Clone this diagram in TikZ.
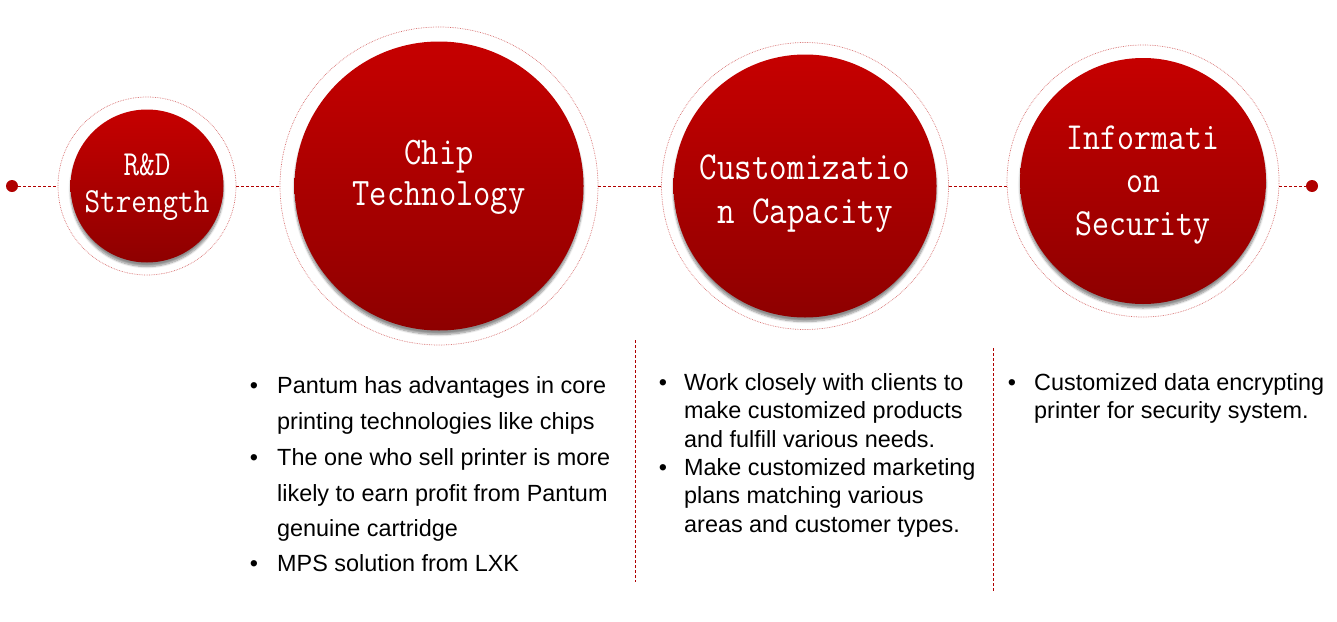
\documentclass[tikz,border=0pt]{standalone}
\usepackage{fontspec}
\setmainfont{Liberation Sans}
\newfontfamily\ballfont[FakeStretch=0.86]{Latin Modern Mono}
\usetikzlibrary{shadows.blur}
\definecolor{ctop}{RGB}{198,0,0}
\definecolor{cbot}{RGB}{142,0,0}
\definecolor{ring}{RGB}{214,110,110}
\definecolor{lred}{RGB}{176,0,0}
\tikzset{
  ball/.style={circle, inner sep=0pt, top color=ctop, bottom color=cbot, draw=none,
    blur shadow={shadow xshift=0pt, shadow yshift=-4pt, shadow blur steps=8, shadow opacity=45}},
  lbl/.style={inner sep=0pt, text=white, align=center, anchor=center},
  ringc/.style={circle, inner sep=0pt, draw=ring, densely dotted, line width=0.7pt},
  link/.style={draw=lred, densely dashed, line width=0.8pt},
  divider/.style={draw=lred, densely dashed, line width=0.6pt},
  enddot/.style={circle, fill=lred, inner sep=0pt, minimum size=12pt},
  txt/.style={anchor=base west, inner sep=0pt, font=\fontsize{23.4}{28}\selectfont, text=black},
  bul/.style={anchor=base, inner sep=0pt, font=\fontsize{23.4}{28}\selectfont, text=black},
}
\begin{document}
\begin{tikzpicture}[x=1pt,y=-1pt]
\useasboundingbox (0,0) rectangle (1337,621);
% outer rings
\node[ringc, minimum size=178pt] (rdO) at (147,186) {};
\node[ringc, minimum size=318pt] (chO) at (439,186) {};
\node[ringc, minimum size=287pt] (cuO) at (805,186) {};
\node[ringc, minimum size=272pt] (inO) at (1143,181) {};
% end dots
\node[enddot] (dL) at (12,186) {};
\node[enddot] (dR) at (1312,186) {};
% links
\draw[link] (dL) -- (rdO.west);
\draw[link] (rdO.east) -- (chO.west);
\draw[link] (chO.east) -- (cuO.west);
\draw[link] (cuO.east) -- (cuO.east -| inO.west);
\draw[link] (dR -| inO.east) -- (dR);
% balls
\node[ball, minimum size=153pt] (rd) at (147,186) {};
\node[ball, minimum size=289pt] (ch) at (439,186) {};
\node[ball, minimum size=263pt] (cu) at (805,186) {};
\node[ball, minimum size=246pt] (in) at (1143,181) {};
% ball labels
\node[lbl, font=\ballfont\fontsize{35.2}{37}\selectfont] (rdL) at ([yshift=-0.7pt]rd.center) {R\&D\\Strength};
\node[lbl, font=\ballfont\fontsize{39}{41}\selectfont] (chL) at ([yshift=9pt]ch.center) {Chip\\Technology};
\node[lbl, font=\ballfont\fontsize{39.6}{44}\selectfont] (cuL) at ([yshift=-7.3pt]cu.center) {Customizatio\\n Capacity};
\node[lbl, font=\ballfont\fontsize{38.3}{43}\selectfont] (inL) at ([yshift=-3.6pt]in.center) {Informati\\on\\Security};
% dividers
\coordinate (v1a) at (635,340);
\coordinate (v1b) at (635,582);
\coordinate (v2a) at (993,348);
\coordinate (v2b) at (993,591);
\draw[divider] (v1a) -- (v1b);
\draw[divider] (v2a) -- (v2b);
% chip column
\node[bul] (cb1) at (254,393) {•};
\node[bul] (cb2) at (254,465) {•};
\node[bul] (cb3) at (254,571) {•};
\node[txt] (c1) at (277,393) {Pantum has advantages in core};
\node[txt] (c2) at (277,429) {printing technologies like chips};
\node[txt] (c3) at (277,465) {The one who sell printer is more};
\node[txt] (c4) at (277,501) {likely to earn profit from Pantum};
\node[txt] (c5) at (277,536) {genuine cartridge};
\node[txt] (c6) at (277,571) {MPS solution from LXK};
% customization column
\node[bul] (ub1) at (663,390) {•};
\node[bul] (ub2) at (663,475) {•};
\node[txt] (u1) at (684,390) {Work closely with clients to};
\node[txt] (u2) at (684,418) {make customized products};
\node[txt] (u3) at (684,447) {and fulfill various needs.};
\node[txt] (u4) at (684,475) {Make customized marketing};
\node[txt] (u5) at (684,503) {plans matching various};
\node[txt] (u6) at (684,532) {areas and customer types.};
% information column
\node[bul] (ib1) at (1012,390) {•};
\node[txt] (i1) at (1034,390) {Customized data encrypting};
\node[txt] (i2) at (1034,418) {printer for security system.};
\end{tikzpicture}
\end{document}
